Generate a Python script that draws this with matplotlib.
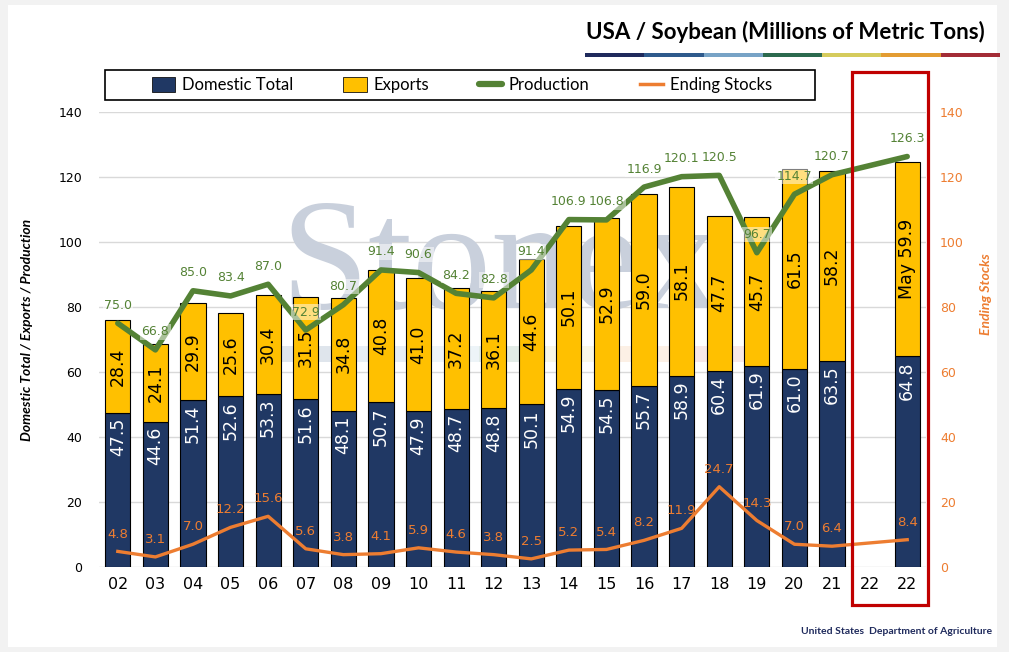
import numpy as np
import matplotlib
matplotlib.use("Agg")
import matplotlib.pyplot as plt
from matplotlib.patches import Rectangle, Patch
from matplotlib.lines import Line2D

years = ["02","03","04","05","06","07","08","09","10","11","12","13","14","15","16","17","18","19","20","21","22","22"]
domestic = [47.5,44.6,51.4,52.6,53.3,51.6,48.1,50.7,47.9,48.7,48.8,50.1,54.9,54.5,55.7,58.9,60.4,61.9,61.0,63.5,np.nan,64.8]
exports = [28.4,24.1,29.9,25.6,30.4,31.5,34.8,40.8,41.0,37.2,36.1,44.6,50.1,52.9,59.0,58.1,47.7,45.7,61.5,58.2,np.nan,59.9]
production = [75.0,66.8,85.0,83.4,87.0,72.9,80.7,91.4,90.6,84.2,82.8,91.4,106.9,106.8,116.9,120.1,120.5,96.7,114.7,120.7,np.nan,126.3]
ending = [4.8,3.1,7.0,12.2,15.6,5.6,3.8,4.1,5.9,4.6,3.8,2.5,5.2,5.4,8.2,11.9,24.7,14.3,7.0,6.4,np.nan,8.4]
export_prefix = [""]*21 + ["May "]

NAVY = "#203864"
YELLOW = "#FFC000"
GREEN = "#548235"
ORANGE = "#ED7D31"

W, H = 1009, 652
fig = plt.figure(figsize=(W/100, H/100), dpi=100)
fig.patch.set_facecolor("#f2f2f2")
fig.patches.append(Rectangle((8/W, 1-647/H), (997-8)/W, (647-5)/H, transform=fig.transFigure,
                             facecolor="white", edgecolor="none", zorder=-10))

ax = fig.add_axes([99/W, 1-567/H, (926-99)/W, (567-112)/H])
ax.set_facecolor("none")
x = np.arange(len(years))
dom = np.array(domestic, dtype=float)
exp_ = np.array(exports, dtype=float)
prod = np.array(production, dtype=float)
end = np.array(ending, dtype=float)

ax.bar(x, dom, width=0.67, color=NAVY, edgecolor="black", linewidth=0.8, zorder=1)
ax.bar(x, exp_, bottom=dom, width=0.67, color=YELLOW, edgecolor="black", linewidth=0.8, zorder=1)

m = ~np.isnan(prod)
ax.plot(x[m], prod[m], color=GREEN, linewidth=4, solid_joinstyle="round", solid_capstyle="round", zorder=3)

ax.set_xlim(-0.5, len(years)-0.5)
ax.set_ylim(0, 140)
ax.set_yticks(np.arange(0, 141, 20))
ax.set_xticks(x)
ax.set_xticklabels(years, fontsize=11.5, family="DejaVu Sans")
ax.tick_params(axis="y", length=0, labelsize=9, pad=12)
ax.tick_params(axis="x", length=0, pad=7)
ax.yaxis.grid(True, color="#d9d9d9", linewidth=1)
ax.set_axisbelow(True)
for s in ax.spines.values():
    s.set_visible(False)

# labels
for i in range(len(years)):
    if np.isnan(dom[i]):
        continue
    ax.text(x[i], dom[i]-1.5, f"{dom[i]:.1f}", rotation=90, ha="center", va="top",
            color="white", fontsize=12.5, zorder=4)
    ax.text(x[i], dom[i]+exp_[i]/2, f"{export_prefix[i]}{exp_[i]:.1f}", rotation=90, ha="center",
            va="center", color="black", fontsize=12.5, zorder=4)
    ax.annotate(f"{prod[i]:.1f}", (x[i], prod[i]), xytext=(0, 13), textcoords="offset points",
                ha="center", va="center", color=GREEN, fontsize=9,
                bbox=dict(boxstyle="square,pad=0.1", facecolor="white", edgecolor="none", alpha=0.5),
                zorder=5)

# watermark (behind bars)
ax.text(500/W, 1-270/H, "Stonex", transform=fig.transFigure, ha="center", va="center",
        fontsize=114, family="Liberation Serif", color="#c9d0dc", zorder=0.8)
band_cols = ["#4f6f96", "#7aa6c8", "#9cc3dc", "#5f9a7a", "#e0d480", "#f0b070", "#d98080"]
bx0, bx1 = 280, 745
bw = (bx1 - bx0) / len(band_cols)
for k, c in enumerate(band_cols):
    ax.add_patch(Rectangle(((bx0 + k*bw)/W, 1-362/H), bw/W, 16/H, transform=fig.transFigure,
                           facecolor=c, edgecolor="none", alpha=0.18, zorder=0.8))

ax2 = ax.twinx()
ax2.set_ylim(0, 140)
ax2.set_yticks(np.arange(0, 141, 20))
me = ~np.isnan(end)
ax2.plot(x[me], end[me], color=ORANGE, linewidth=2.4, solid_joinstyle="round", zorder=3)
for i in range(len(years)):
    if np.isnan(end[i]):
        continue
    ax2.annotate(f"{end[i]:.1f}", (x[i], end[i]), xytext=(0, 12.5), textcoords="offset points",
                 ha="center", va="center", color=ORANGE, fontsize=9.5, zorder=5)
ax2.tick_params(axis="y", length=0, labelsize=9, colors=ORANGE, pad=10)
for s in ax2.spines.values():
    s.set_visible(False)

ax.set_ylabel("Domestic Total / Exports / Production", fontsize=10, family="Lato",
              fontweight="bold", style="italic")
ax.yaxis.set_label_coords(-0.08, 0.52)
ax2.set_ylabel("Ending Stocks", fontsize=10, family="Lato", fontweight="bold", style="italic",
               color=ORANGE)
ax2.yaxis.set_label_coords(1.065, 0.6)

# title
fig.text(985/W, 1-32/H, "USA / Soybean (Millions of Metric Tons)", ha="right", va="center",
         fontsize=16, family="Lato", fontweight="bold", color="black")
stripe = ["#1f2a5c", "#2e5a8c", "#77a3c6", "#2c6a4e", "#d5cb5c", "#e39c32", "#a32c36"]
sx0, sx1 = 585, 1000
sw = (sx1 - sx0) / len(stripe)
for k, c in enumerate(stripe):
    fig.patches.append(Rectangle(((sx0 + k*sw)/W, 1-57/H), sw/W, 4/H, transform=fig.transFigure,
                                 facecolor=c, edgecolor="none"))

# legend
fig.patches.append(Rectangle((105/W, 1-100/H), 710/W, 30/H, transform=fig.transFigure,
                             facecolor="white", edgecolor="black", linewidth=1.2, zorder=5))
handles = [Patch(facecolor=NAVY, edgecolor="#111111", linewidth=0.6, label="Domestic Total"),
           Patch(facecolor=YELLOW, edgecolor="#111111", linewidth=0.6, label="Exports"),
           Line2D([], [], color=GREEN, linewidth=4.5, solid_capstyle="round", label="Production"),
           Line2D([], [], color=ORANGE, linewidth=2.5, label="Ending Stocks")]
leg = fig.legend(handles=handles, loc="center", bbox_to_anchor=(462/W, 1-85/H), ncol=4,
                 frameon=False, prop=dict(family="Lato", size=12), handlelength=1.4,
                 handleheight=1.0, handletextpad=0.4, columnspacing=3.0)
leg.set_zorder(6)

# red box
fig.patches.append(Rectangle((852/W, 1-605/H), 76/W, 533/H, transform=fig.transFigure,
                             facecolor="none", edgecolor="#C00000", linewidth=2.3, zorder=7))

fig.text(992/W, 1-631/H, "United States  Department of Agriculture", ha="right", va="center",
         fontsize=7.5, family="Lato", fontweight="bold", color="#1f2a5c")

fig.savefig("out.png", dpi=100, facecolor=fig.get_facecolor())
